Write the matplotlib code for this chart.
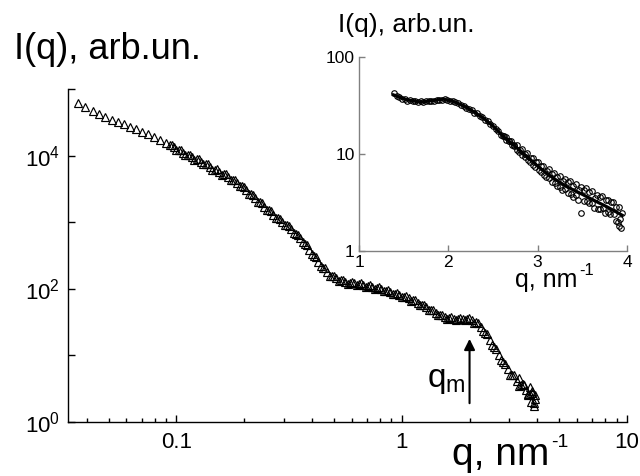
import matplotlib
matplotlib.use('Agg')
import matplotlib.pyplot as plt
from matplotlib.ticker import FixedLocator, FixedFormatter, NullFormatter, LogLocator

plt.rcParams['font.family'] = ['Liberation Sans', 'DejaVu Sans']
plt.rcParams['mathtext.fontset'] = 'custom'
plt.rcParams['mathtext.rm'] = 'Liberation Sans'
plt.rcParams['mathtext.it'] = 'Liberation Sans'
plt.rcParams['mathtext.bf'] = 'Liberation Sans:bold'

# main curve: q (nm^-1) and I(q) (arb. units)
q_main = [0.0365, 0.0394, 0.0426, 0.0455, 0.0483, 0.0518, 0.0550, 0.0585, 0.0622, 0.0661,
          0.0703, 0.0748, 0.0795, 0.0845, 0.0899,
          0.0933, 0.0977, 0.1023, 0.1072, 0.1122, 0.1175, 0.1230, 0.1288, 0.1349, 0.1413,
          0.1479, 0.1549, 0.1622, 0.1698, 0.1778, 0.1862, 0.1950, 0.2042, 0.2138, 0.2239,
          0.2344, 0.2455, 0.2570, 0.2692, 0.2818, 0.2951, 0.3090, 0.3236, 0.3388, 0.3548,
          0.3715, 0.3890, 0.4074, 0.4266, 0.4467, 0.4677, 0.4898, 0.5129, 0.5370, 0.5623,
          0.5888, 0.6166, 0.6457, 0.6761, 0.7079, 0.7413, 0.7762, 0.8128, 0.8511, 0.8913,
          0.9333, 0.9772, 1.023, 1.072, 1.122, 1.175, 1.230, 1.288, 1.349, 1.413,
          1.479, 1.549, 1.622, 1.698, 1.778, 1.862, 1.950, 2.042, 2.138, 2.239,
          2.344, 2.455, 2.570, 2.692, 2.818, 2.951, 3.090, 3.236, 3.388, 3.548,
          3.715, 3.890,
          3.30, 3.50, 3.62, 3.70, 3.75, 3.80, 3.85, 3.88, 3.90]
I_main = [61700, 53700, 46800, 41700, 37600, 34400, 31800, 29400, 27100, 24900,
          22800, 20800, 18900, 17300, 15600,
          14500, 13300, 12200, 11100, 10300, 9480, 8770, 8070, 7380, 6750,
          6180, 5680, 5220, 4760, 4320, 3930, 3470, 3010, 2620, 2280,
          1980, 1720, 1500, 1300, 1150, 1016, 895, 778, 667, 570,
          474, 386, 314, 255, 208, 178, 153, 143, 135, 127,
          124, 121, 118, 115, 111, 106, 102, 98, 94, 89.7,
          84.9, 80.3, 76.0, 72.1, 66.8, 61.8, 57.1, 52.8, 48.5, 44.0,
          39.8, 37.4, 36.3, 35.2, 34.9, 35.5, 35.3, 33.6, 31.6, 26.4,
          22.0, 17.2, 13.3, 10.3, 7.89, 6.22, 5.07, 4.17, 3.56, 3.04,
          2.61, 2.23,
          4.6, 3.6, 2.6, 3.3, 2.0, 2.9, 1.75, 1.9, 2.5]

# second, denser set of points of the same curve (the band is thick in the picture)
q_main2 = [0.0955, 0.1000, 0.1047, 0.1096, 0.1148, 0.1202, 0.1259, 0.1318, 0.1380, 0.1445,
           0.1514, 0.1585, 0.1660, 0.1738, 0.1820, 0.1905, 0.1995, 0.2089, 0.2188, 0.2291,
           0.2399, 0.2512, 0.2630, 0.2754, 0.2884, 0.3020, 0.3162, 0.3311, 0.3467, 0.3631,
           0.3802, 0.3981, 0.4169, 0.4365, 0.4571, 0.4786, 0.5012, 0.5248, 0.5495, 0.5754,
           0.6026, 0.6310, 0.6607, 0.6918, 0.7244, 0.7586, 0.7943, 0.8318, 0.8710, 0.9120,
           0.9550, 1.000, 1.047, 1.096, 1.148, 1.202, 1.259, 1.318, 1.380, 1.445,
           1.514, 1.585, 1.660, 1.738, 1.820, 1.905, 1.995, 2.089, 2.188, 2.291,
           2.399, 2.512, 2.630, 2.754, 2.884, 3.020, 3.162, 3.311, 3.467, 3.631,
           3.802]
I_main2 = [14540, 12130, 12190, 10210, 10330, 8710, 8810, 7370, 7390, 6170,
           6200, 5200, 5220, 4340, 4315, 3520, 3385, 2683, 2556, 2028,
           1934, 1533, 1462, 1170, 1132, 911, 874, 688, 646, 497,
           448, 333, 296, 220, 202, 158, 155, 133, 137, 120,
           128, 114, 122, 108, 114, 99.5, 105, 91.6, 96.2, 83.4,
           86.5, 74.6, 77.5, 66.3, 67.3, 56.8, 57.5, 48.4, 48.4, 40.0,
           40.4, 35.2, 37.5, 33.5, 36.9, 33.8, 36.1, 31.1, 30.2, 23.0,
           20.8, 14.1, 12.5, 8.39, 7.51, 5.12, 5.04, 3.44, 3.69, 2.51,
           2.70]

q_m = 2.0

# inset: measured points (circles) and fitted curve (line)
q_ins = [1.39, 1.42, 1.45, 1.48, 1.51, 1.54, 1.57, 1.60, 1.63, 1.66,
         1.69, 1.72, 1.75, 1.78, 1.81, 1.84, 1.87, 1.90, 1.93, 1.96,
         1.99, 2.02, 2.05, 2.08, 2.11, 2.14, 2.17, 2.20, 2.23, 2.26,
         2.29, 2.32, 2.35, 2.38, 2.41, 2.44, 2.47, 2.50, 2.53, 2.56,
         2.59, 2.62, 2.65, 2.68, 2.71, 2.74, 2.77, 2.80, 2.83, 2.86,
         2.89, 2.92, 2.95, 2.98, 3.01, 3.04, 3.07, 3.10, 3.13, 3.16,
         3.19, 3.22, 3.25, 3.28, 3.31, 3.34, 3.37, 3.40, 3.43, 3.46,
         3.49, 3.52, 3.55, 3.58, 3.61, 3.64, 3.67, 3.70, 3.73, 3.76,
         3.79, 3.82, 3.85, 3.88, 3.91, 3.94, 3.93, 3.90]
I_ins = [42.5, 39.6, 39.1, 37.3, 37.3, 35.6, 36.1, 34.9, 34.9, 34.2,
         34.8, 34.3, 35.2, 35.1, 35.6, 35.4, 36.2, 36.3, 36.3, 36.9,
         36.0, 35.1, 35.2, 34.0, 33.4, 31.9, 31.5, 29.9, 29.4, 28.1,
         26.7, 26.2, 24.7, 24.0, 22.4, 21.8, 20.4, 19.6, 17.9, 17.3,
         15.8, 15.3, 13.9, 13.7, 12.5, 12.5, 11.1, 11.1, 9.82, 10.1,
         8.69, 9.12, 7.69, 8.26, 6.79, 7.48, 6.01, 6.65, 5.65, 6.25,
         5.04, 5.82, 4.54, 5.25, 4.34, 5.09, 3.83, 4.67, 3.77, 4.29,
         2.44, 4.21, 3.24, 4.04, 3.10, 3.53, 2.72, 3.63, 2.80, 3.33,
         2.50, 3.18, 2.39, 2.83, 1.81, 2.47, 1.72, 2.0]

q_ins2 = [2.615, 2.645, 2.675, 2.705, 2.735, 2.765, 2.795, 2.825, 2.855, 2.885,
          2.915, 2.945, 2.975, 3.005, 3.035, 3.065, 3.095, 3.125, 3.155, 3.185,
          3.215, 3.245, 3.275, 3.305, 3.335, 3.365, 3.395, 3.425, 3.455, 3.485,
          3.515, 3.545, 3.575, 3.605, 3.635, 3.665, 3.695, 3.725, 3.755, 3.785,
          3.815, 3.845, 3.875, 3.905, 3.925]
I_ins2 = [15.2, 15.05, 13.5, 13.6, 11.98, 12.4, 10.57, 11.2, 9.33, 10.14,
          8.26, 9.18, 7.31, 8.31, 6.46, 7.57, 5.80, 6.96, 5.15, 6.33,
          4.72, 5.97, 4.25, 5.51, 3.93, 5.25, 3.60, 4.93, 3.38, 4.52,
          3.24, 4.44, 3.11, 4.16, 2.79, 3.81, 2.74, 3.66, 2.45, 3.35,
          2.40, 3.20, 2.04, 2.85, 2.14]

q_fit = [1.385, 1.535, 1.684, 1.833, 1.945, 2.057, 2.169, 2.281, 2.393, 2.506,
         2.618, 2.730, 2.880, 3.029, 3.178, 3.328, 3.478, 3.627, 3.777, 3.945]
I_fit = [40.7, 36.2, 34.3, 35.6, 36.8, 34.8, 31.4, 27.4, 23.4, 19.2,
         15.1, 12.4, 9.38, 7.11, 5.61, 4.59, 3.93, 3.34, 2.85, 2.34]

W, H = 640, 476
fig = plt.figure(figsize=(6.4, 4.76), dpi=100)

# ---- main plot
ax = fig.add_axes([68/W, 54/H, 559/W, 333/H])
tri = dict(ls='none', marker='^', ms=5.5, mfc='none', mec='k', mew=0.85)
ax.plot(q_main, I_main, **tri)
ax.plot(q_main2, I_main2, **tri)
ax.set_xscale('log')
ax.set_yscale('log')
ax.set_xlim(0.033, 10)
ax.set_ylim(1, 1e5)
for s in ['top', 'right']:
    ax.spines[s].set_visible(False)
for s in ['left', 'bottom']:
    ax.spines[s].set_linewidth(1.0)

ax.xaxis.set_major_locator(FixedLocator([0.1, 1, 10]))
ax.xaxis.set_major_formatter(FixedFormatter(['0.1', '1', '10']))
ax.xaxis.set_minor_locator(LogLocator(base=10, subs=[2, 3, 4, 5, 6, 7, 8, 9]))
ax.xaxis.set_minor_formatter(NullFormatter())
ax.yaxis.set_major_locator(FixedLocator([1, 10, 100, 1e3, 1e4, 1e5]))
ax.yaxis.set_major_formatter(FixedFormatter(['$10^{0}$', '', '$10^{2}$', '', '$10^{4}$', '']))
ax.yaxis.set_minor_locator(FixedLocator([]))
ax.tick_params(which='major', direction='in', length=5, width=1.0, labelsize=16)
ax.tick_params(which='minor', direction='in', length=3, width=1.0)
ax.tick_params(axis='x', which='major', pad=7)
ax.tick_params(axis='y', which='major', pad=6)

ax.annotate('', xy=(q_m, 19.5), xytext=(q_m, 1.74),
            arrowprops=dict(arrowstyle='-|>', color='k', lw=1.5, mutation_scale=16))
ax.text(1.93, 3.35, 'q$_{\\mathrm{m}}$', fontsize=24, ha='right', va='baseline')

fig.text(14/W, 1 - 59/H, 'I(q), arb.un.', fontsize=26, ha='left', va='baseline')
fig.text(452/W, 1 - 465/H, 'q, nm', fontsize=28, ha='left', va='baseline')
fig.text(551/W, 1 - 447/H, '-1', fontsize=14, ha='left', va='baseline')

# ---- inset
axi = fig.add_axes([359/W, 225/H, 268/W, 194/H])
circ = dict(ls='none', marker='o', ms=4, mfc='none', mec='k', mew=0.8)
axi.plot(q_ins, I_ins, **circ)
axi.plot(q_ins2, I_ins2, **circ)
axi.plot(q_fit, I_fit, color='k', lw=2.3)
axi.set_yscale('log')
axi.set_xlim(1, 4)
axi.set_ylim(1, 100)
for s in ['top', 'right']:
    axi.spines[s].set_visible(False)
for s in ['left', 'bottom']:
    axi.spines[s].set_color('#808080')
    axi.spines[s].set_linewidth(1.0)
axi.xaxis.set_major_locator(FixedLocator([1, 2, 3, 4]))
axi.xaxis.set_major_formatter(FixedFormatter(['1', '2', '3', '4']))
axi.yaxis.set_major_locator(FixedLocator([1, 10, 100]))
axi.yaxis.set_major_formatter(FixedFormatter(['1', '10', '100']))
axi.yaxis.set_minor_locator(FixedLocator([]))
axi.tick_params(which='major', direction='in', length=4, width=1.0, color='#808080',
                labelsize=12.5, pad=3)

fig.text(338/W, 1 - 32/H, 'I(q), arb.un.', fontsize=19, ha='left', va='baseline')
fig.text(515/W, 1 - 287/H, 'q, nm', fontsize=18, ha='left', va='baseline')
fig.text(579/W, 1 - 275/H, '-1', fontsize=12, ha='left', va='baseline')

fig.savefig('out.png', dpi=100)
